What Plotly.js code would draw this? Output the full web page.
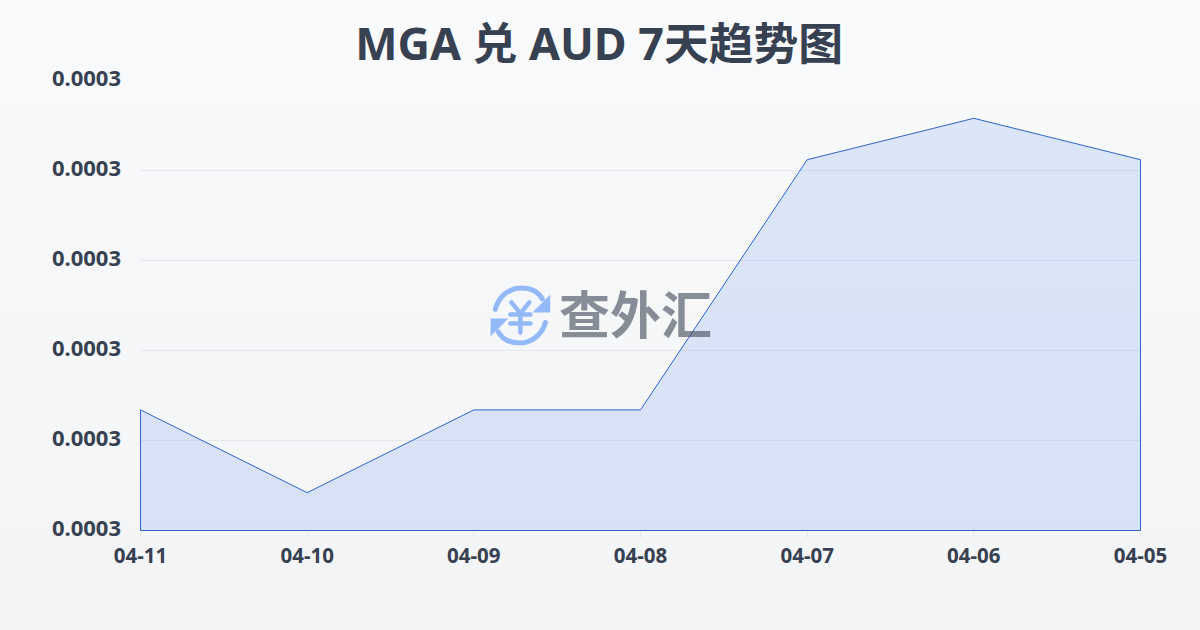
<!DOCTYPE html>
<html><head><meta charset="utf-8">
<script src="https://cdn.plot.ly/plotly-3.0.1.min.js"></script>
<style>
html,body{margin:0;padding:0;width:1200px;height:630px;overflow:hidden;background:linear-gradient(180deg,#f8fafc 0%,#f3f4f6 100%);}
#c{width:1200px;height:630px;}
</style></head><body><div id="c"></div>
<script>
const categories=['04-11','04-10','04-09','04-08','04-07','04-06','04-05'];
const rates=[0.0002984,0.0002892,0.0002984,0.0002984,0.0003262,0.0003308,0.0003262];
const yTicks=[0.000285,0.000295,0.000305,0.000315,0.000325,0.000335];
const yLabels=['0.0003','0.0003','0.0003','0.0003','0.0003','0.0003'];
const titleText='MGA 兑 AUD 7天趋势图';
const watermarkText='查外汇';
const baseline=yTicks[0];
const top_=yTicks[yTicks.length-1];
const halfPxY=0.5*(top_-baseline)/450;
const halfPxX=0.5*(categories.length-1)/1000;
const font='"Noto Sans","Noto Sans CJK SC",sans-serif';
const ink='#374151';
const logoSvg=`<svg xmlns="http://www.w3.org/2000/svg" viewBox="0 0 60 60"><g fill="none" stroke="#93b9f8" stroke-width="5" stroke-linecap="round"><path d="M5 24C8 11 19 2.500 31 2.500c9 0 17 4 21 11"/><path d="M55 37c-3 12-14 20.500-26 20.500-9 0-17-4-21-11"/><path d="M21 17l9 11 9-11M30 28v19M20 29h20M20 38h20" stroke-width="4.500"/></g><path d="M60 9v18H42z" fill="#93b9f8"/><path d="M0 51V33h18z" fill="#93b9f8"/></svg>`;
const data=[{
  type:'scatter',mode:'lines',cliponaxis:false,
  x:[categories[0],...categories,categories[categories.length-1],categories[0]],
  y:[baseline,...rates,baseline,baseline],
  fill:'toself',
  fillgradient:{type:'vertical',colorscale:[[0,'rgba(37,99,235,0.135)'],[1,'rgba(37,99,235,0.13)']]},
  line:{color:'#2f62c8',width:1},
  hoverinfo:'skip',showlegend:false
}];
const layout={
  width:1200,height:630,
  paper_bgcolor:'rgba(0,0,0,0)',plot_bgcolor:'rgba(0,0,0,0)',
  margin:{l:140,r:59,t:80,b:99},
  title:{text:titleText,font:{family:font,size:44.8,color:ink,weight:700},x:0.4993,xanchor:'center',y:0.93,yanchor:'middle'},
  xaxis:{type:'category',categoryorder:'array',categoryarray:categories,range:[-halfPxX,categories.length-1+halfPxX],
    showgrid:false,zeroline:false,showline:false,ticks:'outside',ticklen:6,tickwidth:1,tickcolor:'#e5e7eb',
    tickfont:{family:font,size:20.5,color:ink,weight:700}},
  yaxis:{range:[baseline-halfPxY,top_+halfPxY],tickmode:'array',tickvals:yTicks,ticktext:yLabels,
    showgrid:true,gridcolor:'#e5e7eb',gridwidth:1,zeroline:false,showline:false,ticks:'',
    ticklabelstandoff:18,ticklabelshift:-2,tickfont:{family:font,size:22,color:ink,weight:700}},
  annotations:[{xref:'paper',yref:'paper',x:0.5,y:0.5,xanchor:'center',yanchor:'middle',xshift:-5,yshift:-6,
    text:watermarkText,showarrow:false,font:{family:'"Noto Sans CJK SC",sans-serif',size:51,color:'rgba(75,85,99,0.65)',weight:700}}],
  images:[{source:'data:image/svg+xml;utf8,'+encodeURIComponent(logoSvg),xref:'paper',yref:'paper',x:0.38,y:0.478,sizex:0.06,sizey:0.1333,xanchor:'center',yanchor:'middle',layer:'above',sizing:'contain'}]
};
Plotly.newPlot('c',data,layout,{displayModeBar:false,staticPlot:true});
</script></body></html>
